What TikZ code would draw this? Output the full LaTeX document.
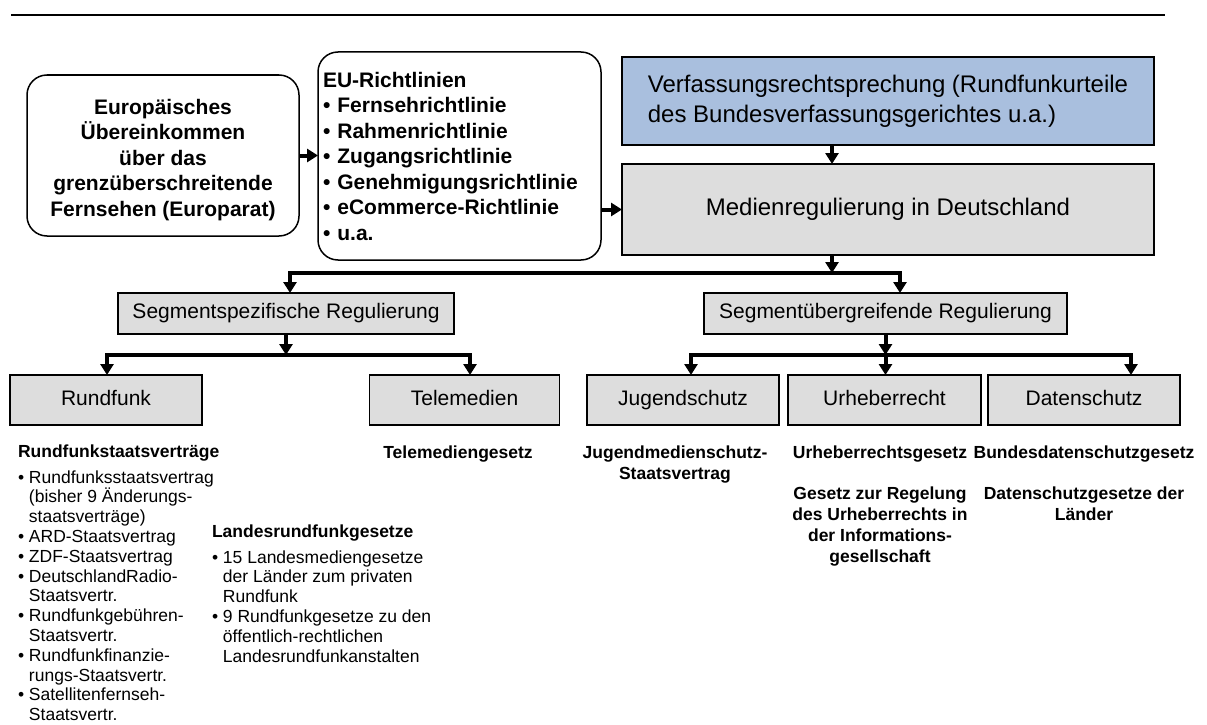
\documentclass[tikz,border=0pt]{standalone}
\usepackage{fontspec}
\setmainfont{Liberation Sans}
\usetikzlibrary{arrows.meta,calc}
\definecolor{boxgray}{RGB}{221,221,221}
\definecolor{verfblue}{RGB}{169,191,222}
\newcommand\mylsl{\lineskiplimit=-50pt\relax}
\begin{document}
\begin{tikzpicture}[x=1pt,y=-1pt,
  >={Triangle[width=13pt,length=11pt]},
  every node/.style={inner sep=0pt,outer sep=0pt},
  gbox/.style={draw=black,line width=1.6pt,fill=boxgray,font=\fontsize{21}{25}\selectfont,text height=15pt,text depth=4.5pt},
  bigbox/.style={draw=black,line width=1.6pt,font=\fontsize{24}{30}\selectfont},
  rbox/.style={draw=black,line width=1.5pt,rounded corners=20pt,fill=white,font=\bfseries\fontsize{21}{25.5}\selectfont},
  conn/.style={line width=4pt,->},
  bus/.style={line width=4pt,<->},
  hd/.style={font=\bfseries\fontsize{17.5}{21}\selectfont\mylsl},
  lst/.style={font=\fontsize{17.5}{19.8}\selectfont\mylsl,align=left},
]
\useasboundingbox (0,0) rectangle (1207,725);
\coordinate (tl1) at (11,15);
\coordinate (tl2) at (1165,15);
\draw[line width=2.5pt] (tl1) -- (tl2);

\node[rbox,minimum width=272pt,minimum height=161pt,align=center] (europ) at (163,155.5)
  {\rule{0pt}{24pt}Europäisches\\Übereinkommen\\über das\\grenzüberschreitende\\Fernsehen (Europarat)};
\node[rbox,minimum width=283pt,minimum height=208pt,align=left,text width=273pt] (eu) at (459.5,156)
  {EU-Richtlinien\\• Fernsehrichtlinie\\• Rahmenrichtlinie\\• Zugangsrichtlinie\\• Genehmigungsrichtlinie\\• eCommerce-Richtlinie\\• u.a.};
\node[bigbox,fill=verfblue,minimum width=532pt,minimum height=88pt,align=left] (verf) at (888,101)
  {Verfassungsrechtsprechung (Rundfunkurteile\\des Bundesverfassungsgerichtes u.a.)};
\node[bigbox,fill=boxgray,minimum width=532pt,minimum height=91pt] (medien) at (888,209.5)
  {Medienregulierung in Deutschland};

\node[gbox,minimum width=336pt,minimum height=41pt] (segspez) at (286,313.5) {Segmentspezifische Regulierung};
\node[gbox,minimum width=363pt,minimum height=41pt] (seguber) at (885.5,313.5) {Segmentübergreifende Regulierung};
\node[gbox,minimum width=192pt,minimum height=50pt] (rundfunk) at (106,400) {Rundfunk};
\node[gbox,minimum width=190pt,minimum height=50pt] (tele) at (464.5,400) {Telemedien};
\node[gbox,minimum width=192pt,minimum height=50pt] (jug) at (683,400) {Jugendschutz};
\node[gbox,minimum width=193pt,minimum height=50pt] (urh) at (884.5,400) {Urheberrecht};
\node[gbox,minimum width=192pt,minimum height=50pt] (daten) at (1084,400) {Datenschutz};

\draw[conn] (europ.east) -- (europ.east -| eu.west);
\draw[conn] (eu.east |- medien.center) -- (medien.west);
\coordinate (mx) at (832,0);
\draw[conn] (verf.south -| mx) -- (medien.north -| mx);
\coordinate (b1L) at (290,273);
\coordinate (b1R) at (900,273);
\draw[conn] (medien.south -| mx) -- (mx |- b1L);
\draw[bus] (segspez.north -| b1L) -- (b1L) -- (b1R) -- (seguber.north -| b1R);
\coordinate (b2L) at (107,355);
\coordinate (b2R) at (470,355);
\draw[conn] (segspez.south) -- (segspez.south |- b2L);
\draw[bus] (rundfunk.north -| b2L) -- (b2L) -- (b2R) -- (tele.north -| b2R);
\coordinate (b3L) at (691,355);
\coordinate (b3R) at (1131,355);
\draw[conn] (seguber.south) -- (seguber.south |- b3L);
\draw[bus] (jug.north -| b3L) -- (b3L) -- (b3R) -- (daten.north -| b3R);
\draw[conn] (seguber.south |- b3L) -- (urh.north -| seguber.south);

\node[hd,anchor=base west] (rsvH) at (18,457) {Rundfunkstaatsverträge};
\node[lst,anchor=north west] (rsvL) at (18,469)
  {\rule{0pt}{14pt}• Rundfunksstaatsvertrag\\\phantom{• }(bisher 9 Änderungs-\\\phantom{• }staatsverträge)\\• ARD-Staatsvertrag\\• ZDF-Staatsvertrag\\• DeutschlandRadio-\\\phantom{• }Staatsvertr.\\• Rundfunkgebühren-\\\phantom{• }Staatsvertr.\\• Rundfunkfinanzie-\\\phantom{• }rungs-Staatsvertr.\\• Satellitenfernseh-\\\phantom{• }Staatsvertr.};
\node[hd,anchor=base west] (lrgH) at (212,537) {Landesrundfunkgesetze};
\node[lst,anchor=north west] (lrgL) at (212,549)
  {\rule{0pt}{14pt}• 15 Landesmediengesetze\\\phantom{• }der Länder zum privaten\\\phantom{• }Rundfunk\\• 9 Rundfunkgesetze zu den\\\phantom{• }öffentlich-rechtlichen\\\phantom{• }Landesrundfunkanstalten};
\node[hd,anchor=base] (teleG) at (458,458) {Telemediengesetz};
\node[hd,align=center,anchor=north] (jugG) at (675,444) {\rule{0pt}{14.7pt}Jugendmedienschutz-\\Staatsvertrag};
\node[hd,anchor=base] (urhG1) at (880,458) {Urheberrechtsgesetz};
\node[hd,align=center,anchor=north] (urhG2) at (880,485) {\rule{0pt}{14.7pt}Gesetz zur Regelung\\des Urheberrechts in\\der Informations-\\gesellschaft};
\node[hd,anchor=base] (datG1) at (1084,458) {Bundesdatenschutzgesetz};
\node[hd,align=center,anchor=north] (datG2) at (1084,485) {\rule{0pt}{14.7pt}Datenschutzgesetze der\\Länder};
\end{tikzpicture}
\end{document}
